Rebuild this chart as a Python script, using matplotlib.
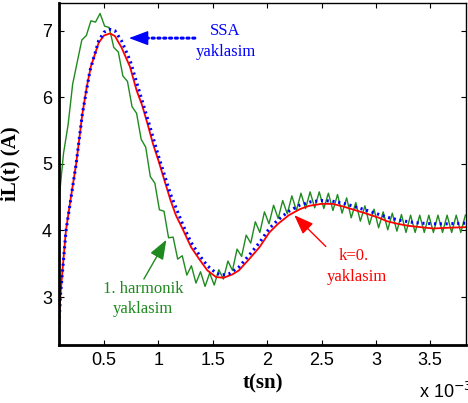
import matplotlib.pyplot as plt
import numpy as np

# time axis values in ms (plotted in seconds)
t_k0 = [0.085, 0.097, 0.12, 0.149, 0.19, 0.243, 0.30, 0.34, 0.378, 0.45, 0.50,
        0.555, 0.60, 0.66, 0.738, 0.80, 0.85, 0.90, 0.95, 1.00, 1.05, 1.11,
        1.16, 1.226, 1.30, 1.379, 1.45, 1.53, 1.60, 1.68, 1.74, 1.84, 1.93,
        2.02, 2.10, 2.20, 2.30, 2.386, 2.50, 2.60, 2.70, 2.80, 2.90, 3.03,
        3.10, 3.20, 3.30, 3.41, 3.53, 3.65, 3.83]
i_k0 = [2.60, 3.00, 3.45, 4.00, 4.45, 5.00, 5.75, 6.15, 6.46, 6.82, 6.93,
        6.96, 6.92, 6.75, 6.46, 6.10, 5.88, 5.60, 5.30, 5.05, 4.78, 4.46,
        4.23, 4.01, 3.75, 3.56, 3.40, 3.30, 3.29, 3.34, 3.40, 3.58, 3.75,
        3.97, 4.10, 4.23, 4.32, 4.37, 4.40, 4.40, 4.36, 4.31, 4.26, 4.19,
        4.14, 4.10, 4.07, 4.05, 4.03, 4.04, 4.05]

t_ssa = [0.085, 0.10, 0.15, 0.243, 0.30, 0.37, 0.45, 0.50, 0.555, 0.60, 0.66,
         0.74, 0.80, 0.85, 0.90, 0.95, 1.00, 1.05, 1.11, 1.226, 1.30, 1.38,
         1.45, 1.53, 1.58, 1.65, 1.74, 1.84, 1.93, 2.02, 2.10, 2.20, 2.30,
         2.40, 2.50, 2.60, 2.70, 2.80, 2.90, 3.03, 3.10, 3.20, 3.30, 3.41,
         3.53, 3.65, 3.83]
i_ssa = [2.60, 3.05, 4.00, 5.00, 5.75, 6.40, 6.85, 6.98, 7.02, 7.00, 6.85,
         6.55, 6.22, 5.95, 5.68, 5.40, 5.12, 4.86, 4.55, 4.08, 3.82, 3.62,
         3.47, 3.36, 3.33, 3.35, 3.45, 3.64, 3.82, 4.03, 4.16, 4.29, 4.38,
         4.43, 4.45, 4.44, 4.41, 4.36, 4.31, 4.24, 4.20, 4.16, 4.13, 4.11,
         4.10, 4.10, 4.11]

t_h1 = [0.085, 0.127, 0.169, 0.211, 0.253, 0.295, 0.337, 0.379, 0.421, 0.463,
        0.505, 0.547, 0.589, 0.631, 0.673, 0.715, 0.757, 0.799, 0.841, 0.883,
        0.925, 0.967, 1.009, 1.051, 1.093, 1.135, 1.177, 1.219, 1.261, 1.303,
        1.345, 1.387, 1.429, 1.471, 1.513, 1.555, 1.597, 1.639, 1.681, 1.723,
        1.765, 1.807, 1.849, 1.891, 1.933, 1.975, 2.017, 2.059, 2.101, 2.143,
        2.185, 2.227, 2.269, 2.311, 2.353, 2.395, 2.437, 2.479, 2.521, 2.563,
        2.605, 2.647, 2.689, 2.731, 2.773, 2.815, 2.857, 2.899, 2.941, 2.983,
        3.025, 3.067, 3.109, 3.151, 3.193, 3.235, 3.277, 3.319, 3.361, 3.403,
        3.445, 3.487, 3.529, 3.571, 3.613, 3.655, 3.697, 3.739, 3.781, 3.823]
i_h1 = [4.45, 5.16, 5.59, 6.20, 6.53, 6.86, 6.93, 7.15, 7.13, 7.26,
        7.07, 7.05, 6.75, 6.68, 6.32, 6.24, 5.86, 5.76, 5.37, 5.25,
        4.81, 4.71, 4.31, 4.29, 3.89, 3.90, 3.57, 3.62, 3.33, 3.47,
        3.21, 3.38, 3.16, 3.36, 3.18, 3.41, 3.27, 3.54, 3.40, 3.72,
        3.61, 3.93, 3.81, 4.13, 3.97, 4.28, 4.10, 4.38, 4.18, 4.45,
        4.25, 4.52, 4.30, 4.56, 4.33, 4.58, 4.34, 4.58, 4.33, 4.56,
        4.30, 4.54, 4.26, 4.49, 4.19, 4.42, 4.14, 4.37, 4.09, 4.32,
        4.04, 4.28, 4.01, 4.26, 3.99, 4.24, 3.97, 4.23, 3.97, 4.23,
        3.97, 4.23, 3.97, 4.23, 3.97, 4.23, 3.97, 4.23, 3.97, 4.23]

x_ticks = [0.5, 1.0, 1.5, 2.0, 2.5, 3.0, 3.5]
y_ticks = [3, 4, 5, 6, 7]

GREEN = '#1f8a1f'
serif = ['Liberation Serif', 'DejaVu Serif']
sans = ['Liberation Sans', 'DejaVu Sans']

fig = plt.figure(figsize=(4.68, 4.03), dpi=100)
ax = fig.add_axes([0.126, 0.144, 0.870, 0.849])

ms = 1e-3
ax.plot(np.array(t_h1) * ms, i_h1, color=GREEN, lw=1.0)
ax.plot(np.array(t_k0) * ms, i_k0, color='red', lw=1.3)
ax.plot(np.array(t_ssa) * ms, i_ssa, color='blue', lw=2.2, ls=(0, (0.7, 1.2)))

ax.set_xlim(0.085 * ms, 3.83 * ms)
ax.set_ylim(2.28, 7.42)
ax.set_xticks(np.array(x_ticks) * ms)
ax.set_xticklabels([f'{v:g}' for v in x_ticks], family=sans, fontsize=13)
ax.set_yticks(y_ticks)
ax.set_yticklabels([str(v) for v in y_ticks], family=sans, fontsize=13)
ax.tick_params(direction='in', top=True, right=True, length=3.5, width=0.8)
ax.tick_params(axis='x', pad=5)
ax.tick_params(axis='y', pad=5)

for side in ('left', 'bottom'):
    ax.spines[side].set_linewidth(2.0)
for side in ('top', 'right'):
    ax.spines[side].set_linewidth(1.0)

ax.set_xlabel('t(sn)', family=serif, fontsize=15, fontweight='bold', labelpad=3)
ax.set_ylabel('iL(t) (A)', family=serif, fontsize=15, fontweight='bold', labelpad=9)
ax.yaxis.set_label_coords(-0.095, 0.53)
fig.text(0.895, 0.027, r'x 10$^{-3}$', family=sans, fontsize=13,
         ha='left', va='center')

# callout labels, one line at a time
lbl = dict(ha='center', va='center', family=serif, fontsize=12)
ax.text(1.612 * ms, 7.00, 'SSA', color='blue', **lbl)
ax.text(1.622 * ms, 6.68, 'yaklasim', color='blue', **lbl)
ax.text(0.858 * ms, 3.12, '1. harmonik', color=GREEN, **lbl)
ax.text(0.861 * ms, 2.82, 'yaklasim', color=GREEN, **lbl)
ax.text(2.799 * ms, 3.62, 'k=0.', color='red', **lbl)
ax.text(2.826 * ms, 3.30, 'yaklasim', color='red', **lbl)

head = '-|>,head_length=0.8,head_width=0.3'
# SSA arrow: dotted shaft plus a solid head
ax.annotate('', xy=(0.80 * ms, 6.89), xytext=(1.335 * ms, 6.89),
            arrowprops=dict(arrowstyle='-', color='blue', lw=2.2,
                            ls=(0, (0.7, 1.2)), shrinkA=0, shrinkB=0))
ax.annotate('', xy=(0.729 * ms, 6.89), xytext=(0.84 * ms, 6.89),
            arrowprops=dict(arrowstyle=head, color='blue', lw=1.0,
                            mutation_scale=15, shrinkA=0, shrinkB=0))
ax.annotate('', xy=(1.073 * ms, 3.86), xytext=(0.866 * ms, 3.27),
            arrowprops=dict(arrowstyle=head, color=GREEN, lw=1.0,
                            mutation_scale=15, shrinkA=0, shrinkB=0))
ax.annotate('', xy=(2.249 * ms, 4.23), xytext=(2.539 * ms, 3.76),
            arrowprops=dict(arrowstyle=head, color='red', lw=1.0,
                            mutation_scale=15, shrinkA=0, shrinkB=0))

fig.savefig('out.png', dpi=100)
